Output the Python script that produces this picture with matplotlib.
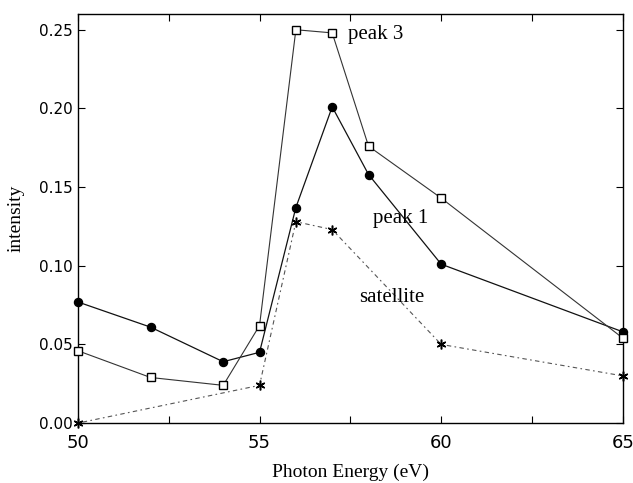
import matplotlib
matplotlib.use("Agg")
import matplotlib.pyplot as plt

energy_peak1 = [50, 52, 54, 55, 56, 57, 58, 60, 65]
peak1 = [0.077, 0.061, 0.039, 0.045, 0.137, 0.201, 0.158, 0.101, 0.058]

energy_peak3 = [50, 52, 54, 55, 56, 57, 58, 60, 65]
peak3 = [0.046, 0.029, 0.024, 0.062, 0.250, 0.248, 0.176, 0.143, 0.054]

energy_sat = [50, 55, 56, 57, 60, 65]
satellite = [0.000, 0.024, 0.128, 0.123, 0.050, 0.030]

x_ticks = [50, 52.5, 55, 57.5, 60, 62.5, 65]
x_labels = ["50", "", "55", "", "60", "", "65"]
y_ticks = [0.00, 0.05, 0.10, 0.15, 0.20, 0.25]
y_labels = ["0.00", "0.05", "0.10", "0.15", "0.20", "0.25"]

serif = ["Liberation Serif", "DejaVu Serif"]

fig = plt.figure(figsize=(6.33, 4.83), dpi=100)
ax = fig.add_axes([0.123, 0.124, 0.861, 0.847])

ax.plot(energy_peak1, peak1, color="#111111", lw=0.9, marker="o", ms=5.8,
        mfc="black", mec="black", clip_on=False, zorder=3)
ax.plot(energy_peak3, peak3, color="#333333", lw=0.8, marker="s", ms=6,
        mfc="white", mec="black", mew=1.0, clip_on=False, zorder=3)
ax.plot(energy_sat, satellite, color="#555555", lw=0.8, ls=(0, (1.5, 3, 4, 3)),
        marker=(6, 2, 0), ms=7, mec="black", mew=1.1, clip_on=False, zorder=3)

ax.text(57.43, 0.247, "peak 3", family=serif, fontsize=15, va="center")
ax.text(58.12, 0.130, "peak 1", family=serif, fontsize=15, va="center")
ax.text(57.73, 0.080, "satellite", family=serif, fontsize=15, va="center")

ax.set_xlim(50, 65)
ax.set_ylim(0, 0.26)
ax.set_xticks(x_ticks)
ax.set_xticklabels(x_labels, fontsize=13, family="DejaVu Sans")
ax.set_yticks(y_ticks)
ax.set_yticklabels(y_labels, fontsize=11, family="DejaVu Sans")
ax.tick_params(direction="in", top=True, right=True, length=5, width=0.8)
ax.tick_params(axis="y", pad=4)
ax.tick_params(axis="x", pad=8)
for s in ax.spines.values():
    s.set_linewidth(1.0)

ax.set_xlabel("Photon Energy (eV)", family=serif, fontsize=14, labelpad=8)
ax.set_ylabel("intensity", family=serif, fontsize=14, labelpad=10)

fig.savefig("out.png", dpi=100)
